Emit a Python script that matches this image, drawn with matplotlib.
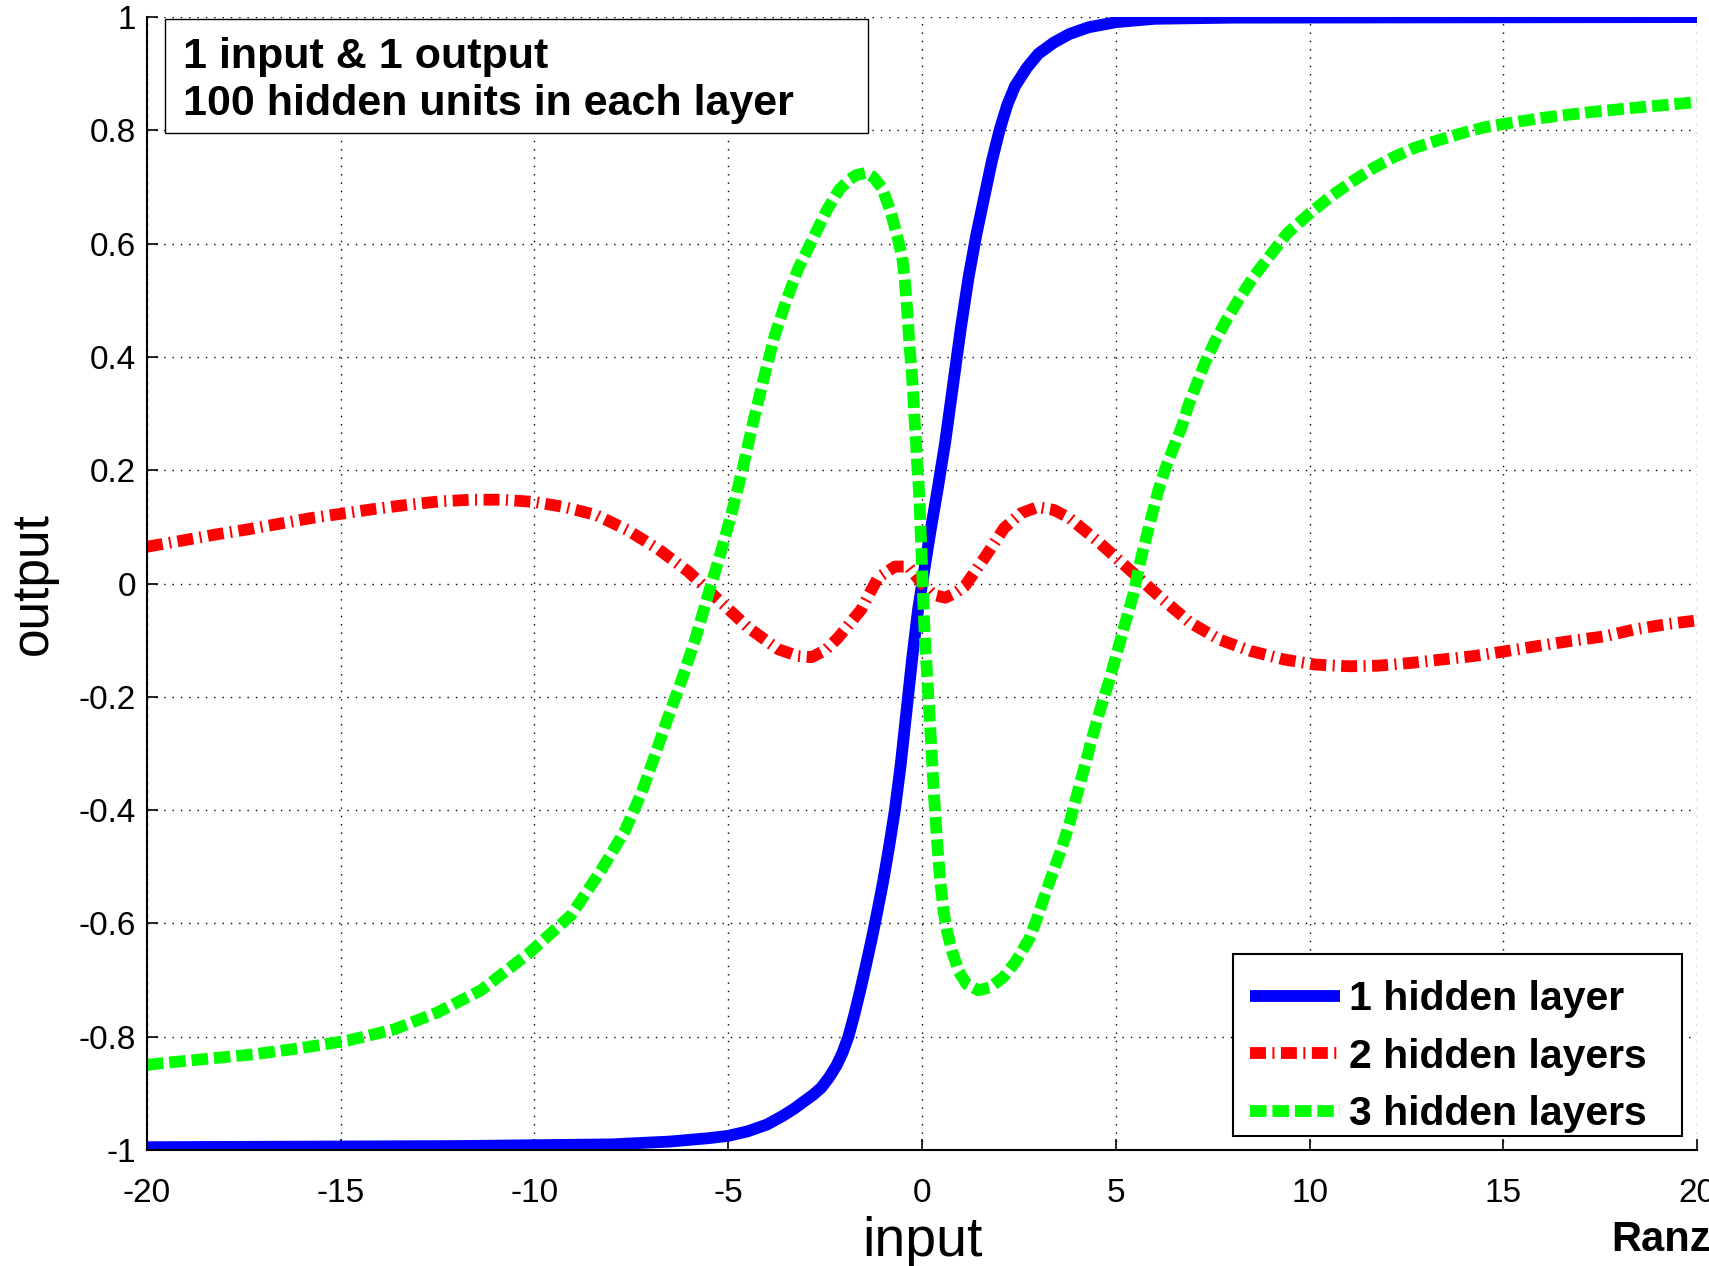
import matplotlib
matplotlib.use('Agg')
import matplotlib.pyplot as plt
from matplotlib.patches import Rectangle

plt.rcParams['font.family'] = ['Liberation Sans', 'DejaVu Sans']

# 1 hidden layer
x1 = [-20, -12, -8, -6.5, -5.5, -5, -4.5, -4, -3.6, -3.3, -3.0, -2.8, -2.6, -2.4,
      -2.2, -2.05, -1.9, -1.75, -1.6, -1.45, -1.3, -1.15, -1.0, -0.85, -0.7, -0.55,
      -0.4, -0.25, -0.1, 0.05, 0.2, 0.4, 0.6, 0.8, 1.0, 1.2, 1.4, 1.6, 1.8, 2.0,
      2.2, 2.4, 2.7, 3.0, 3.4, 3.8, 4.3, 5.0, 6.0, 8, 20]
y1 = [-0.995, -0.993, -0.99, -0.985, -0.979, -0.975, -0.967, -0.955, -0.94, -0.927,
      -0.912, -0.902, -0.89, -0.872, -0.85, -0.828, -0.8, -0.762, -0.72, -0.675,
      -0.628, -0.578, -0.525, -0.465, -0.4, -0.32, -0.225, -0.13, -0.045, 0.02,
      0.085, 0.165, 0.25, 0.35, 0.45, 0.54, 0.615, 0.68, 0.745, 0.8, 0.845, 0.878,
      0.91, 0.935, 0.955, 0.97, 0.982, 0.991, 0.997, 0.999, 1.0]

# 2 hidden layers
x2 = [-20, -19.0, -18.19, -17.37, -16.55, -15.73, -14.91, -14.1, -13.28, -12.46,
      -11.64, -10.82, -10.0, -9.22, -8.41, -7.59, -6.81, -6.03, -5.17, -4.48,
      -3.71, -3.2, -2.85, -2.5, -2.17, -1.57, -1.14, -0.7, -0.35, 0, 0.3, 0.6, 0.9,
      1.1, 1.61, 2.12, 2.55, 2.98, 3.4, 3.8, 4.53, 5.33, 6.16, 6.92, 7.68, 8.48,
      9.34, 10.15, 11.01, 11.77, 12.63, 13.43, 14.24, 15.1, 15.91, 16.77, 17.63,
      18.38, 19.19, 20]
y2 = [0.065, 0.077, 0.087, 0.096, 0.106, 0.116, 0.124, 0.132, 0.139, 0.145,
      0.148, 0.148, 0.144, 0.135, 0.121, 0.094, 0.061, 0.021, -0.034, -0.078,
      -0.116, -0.128, -0.13, -0.118, -0.096, -0.046, 0.01, 0.03, 0.03, 0.0, -0.02,
      -0.025, -0.015, -0.005, 0.045, 0.098, 0.124, 0.135, 0.13, 0.116, 0.075, 0.026,
      -0.025, -0.069, -0.099, -0.119, -0.134, -0.143, -0.146, -0.145, -0.14,
      -0.134, -0.128, -0.119, -0.11, -0.101, -0.093, -0.081, -0.072, -0.065]

# 3 hidden layers
x3 = [-20, -19.66, -18.45, -17.24, -16.03, -14.83, -13.62, -12.5, -11.38, -10.17,
      -9.05, -8.28, -7.67, -7.24, -6.9, -6.6, -6.2, -5.86, -5.52, -5.17, -4.91,
      -4.62, -4.36, -4.10, -3.80, -3.5, -3.2, -2.95, -2.7, -2.45, -2.14, -1.88,
      -1.7, -1.45, -1.25, -1.03, -0.81, -0.64, -0.51, -0.45, -0.4, -0.36, -0.32,
      -0.27, -0.23, -0.2, -0.16, -0.13, -0.09, -0.06, -0.04, -0.01, 0.02, 0.05,
      0.09, 0.14, 0.19, 0.25, 0.31, 0.39, 0.47, 0.56, 0.65, 0.78, 0.95, 1.15, 1.45,
      1.75, 2.1, 2.41, 2.76, 2.97, 3.15, 3.36, 3.58, 3.8, 4.01, 4.2, 4.4, 4.6,
      4.83, 5.0, 5.2, 5.45, 5.67, 5.93, 6.1, 6.28, 6.49, 6.71, 6.88, 7.09, 7.31,
      7.57, 7.87, 8.17, 8.56, 8.99, 9.42, 9.98, 10.5, 11.15, 11.66, 12.18, 12.7,
      13.39, 14.03, 14.55, 15.16, 16.0, 17.2, 18.4, 20]
y3 = [-0.85, -0.847, -0.839, -0.831, -0.82, -0.807, -0.787, -0.757, -0.718, -0.654,
      -0.585, -0.506, -0.437, -0.37, -0.305, -0.245, -0.17, -0.1, -0.02, 0.06,
      0.125, 0.205, 0.284, 0.358, 0.438, 0.5, 0.555, 0.59, 0.625, 0.66, 0.695, 0.713,
      0.721, 0.725, 0.717, 0.698, 0.657, 0.613, 0.576, 0.539, 0.499, 0.459, 0.418,
      0.378, 0.338, 0.297, 0.257, 0.217, 0.176, 0.14, 0.1, 0.05, -0.01, -0.06,
      -0.116, -0.17, -0.23, -0.30, -0.375, -0.455, -0.525, -0.58, -0.615, -0.65,
      -0.685, -0.707, -0.718, -0.713, -0.695, -0.668, -0.628, -0.591, -0.554,
      -0.513, -0.472, -0.425, -0.37, -0.322, -0.27, -0.222, -0.172, -0.13, -0.08,
      -0.02, 0.05, 0.12, 0.165, 0.203, 0.24, 0.278, 0.316, 0.353, 0.391, 0.429,
      0.467, 0.501, 0.542, 0.58, 0.618, 0.652, 0.681, 0.712, 0.734, 0.753, 0.769,
      0.784, 0.797, 0.806, 0.813, 0.822, 0.832, 0.84, 0.85]

labels = ['1 hidden layer', '2 hidden layers', '3 hidden layers']
xticks = [-20, -15, -10, -5, 0, 5, 10, 15, 20]
yticks = [-1, -0.8, -0.6, -0.4, -0.2, 0, 0.2, 0.4, 0.6, 0.8, 1]
ytick_labels = ['-1', '-0.8', '-0.6', '-0.4', '-0.2', '0', '0.2', '0.4', '0.6', '0.8', '1']
info_lines = ['1 input & 1 output', '100 hidden units in each layer']

fig = plt.figure(figsize=(17.09, 12.66), dpi=100)
ax = fig.add_axes([0.086, 0.0916, 0.907, 0.8949])

lw = 8.5
ax.plot(x1, y1, color='#0000ff', lw=lw, label=labels[0], solid_capstyle='butt',
        solid_joinstyle='round')
ax.plot(x2, y2, color='#ff0000', lw=lw, label=labels[1],
        dashes=(1.35, 0.55, 0.17, 0.55))
ax.plot(x3, y3, color='#00ff00', lw=lw, label=labels[2], dashes=(1.4, 0.5))

ax.set_xlim(-20, 20)
ax.set_ylim(-1, 1)
ax.set_xticks(xticks)
ax.set_xticklabels([str(t) for t in xticks])
ax.set_yticks(yticks)
ax.set_yticklabels(ytick_labels)
ax.tick_params(direction='in', length=8, width=1.2, labelsize=24)
ax.tick_params(axis='x', pad=20)
ax.tick_params(axis='y', pad=8)
ax.grid(True, color='black', lw=1, linestyle=(0, (1, 5)))
ax.spines['top'].set_visible(False)
ax.spines['right'].set_visible(False)
for s in ['left', 'bottom']:
    ax.spines[s].set_linewidth(1.5)

ax.set_xlabel('input', fontsize=40, labelpad=5)
ax.set_ylabel('output', fontsize=37, labelpad=15)

# info box
ax.add_patch(Rectangle((0.0114, 0.8975), 0.4536, 0.1005, transform=ax.transAxes,
                       facecolor='white', edgecolor='black', lw=1, zorder=5))
ax.text(0.0232, 0.955, info_lines[0], transform=ax.transAxes, fontsize=31,
        fontweight='bold', va='baseline', ha='left', zorder=6)
ax.text(0.0232, 0.914, info_lines[1], transform=ax.transAxes, fontsize=31,
        fontweight='bold', va='baseline', ha='left', zorder=6)

# legend with its own frame
ax.add_patch(Rectangle((0.7005, 0.0125), 0.2897, 0.1605, transform=ax.transAxes,
                       facecolor='white', edgecolor='black', lw=1.5, zorder=4))
leg = ax.legend(loc='center left', bbox_to_anchor=(0.7116, 0.0825), fontsize=29.5,
                frameon=False, handlelength=2.2, handletextpad=0.21,
                labelspacing=0.48, borderaxespad=0, borderpad=0)
leg.set_zorder(6)
for t in leg.get_texts():
    t.set_fontweight('bold')

fig.text(0.9427, 0.012, 'Ranzato', fontsize=30, fontweight='bold', va='baseline')

fig.savefig('out.png', dpi=100)
